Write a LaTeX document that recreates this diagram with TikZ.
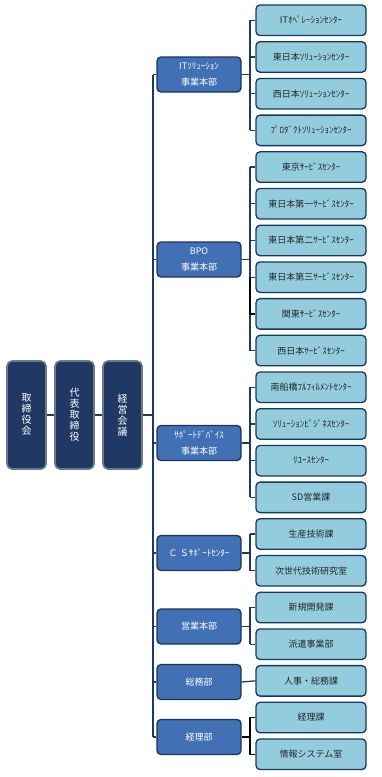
\documentclass[tikz,border=0pt]{standalone}
\usepackage{fontspec}
\setmainfont{Noto Sans CJK JP}
\usetikzlibrary{calc}
\definecolor{topfill}{HTML}{1F3864}
\definecolor{topedge}{HTML}{6B7A8F}
\definecolor{depfill}{HTML}{4170B4}
\definecolor{depedge}{HTML}{1C3557}
\definecolor{chfill}{HTML}{93CDDD}
\definecolor{chedge}{HTML}{17375E}
\definecolor{linec}{HTML}{1F3A5F}
\tikzset{
  topbox/.style={draw=topedge, fill=topfill, line width=1.6pt, rounded corners=5pt,
    minimum width=39pt, minimum height=108pt, inner sep=0pt, text=white,
    font=\fontsize{10}{11}\selectfont, align=center},
  depbox/.style={draw=depedge, fill=depfill, line width=1.3pt, rounded corners=4pt,
    minimum width=84pt, minimum height=35pt, inner sep=0pt, text=white,
    font=\fontsize{9}{16}\selectfont, align=center},
  chbox/.style={draw=chedge, fill=chfill, line width=1.3pt, rounded corners=4pt,
    minimum width=110pt, minimum height=30.5pt, inner sep=0pt, text=black!85,
    font=\fontsize{9}{10}\selectfont, align=center},
  conn/.style={draw=linec, line width=1.3pt},
  connk/.style={draw=black, line width=1.3pt},
}
\begin{document}
\begin{tikzpicture}[x=1pt,y=-1pt]
\useasboundingbox (0,0) rectangle (381,777);
% top-level
\node[topbox] (t1) at (26.5,415) {取\\締\\役\\会};
\node[topbox] (t2) at (74.5,415) {代\\表\\取\\締\\役};
\node[topbox] (t3) at (122.5,415) {経\\営\\会\\議};
% departments
\node[depbox] (d1) at (199,74.5) {ITｿﾘｭｰｼｮﾝ\\事業本部};
\node[depbox] (d2) at (199,259.5) {BPO\\事業本部};
\node[depbox] (d3) at (199,443) {ｻﾎﾟｰﾄﾃﾞﾊﾞｲｽ\\事業本部};
\node[depbox] (d4) at (199,553) {Ｃ Ｓｻﾎﾟｰﾄｾﾝﾀｰ};
\node[depbox] (d5) at (199,626.5) {営業本部};
\node[depbox] (d6) at (199,682) {総務部};
\node[depbox] (d7) at (199,737) {経理部};
% children
\foreach \i/\t in {0/ITｵﾍﾟﾚｰｼｮﾝｾﾝﾀｰ,1/東日本ｿﾘｭｰｼｮﾝｾﾝﾀｰ,2/西日本ｿﾘｭｰｼｮﾝｾﾝﾀｰ,3/ﾌﾟﾛﾀﾞｸﾄｿﾘｭｰｼｮﾝｾﾝﾀｰ,
  4/東京ｻｰﾋﾞｽｾﾝﾀｰ,5/東日本第一ｻｰﾋﾞｽｾﾝﾀｰ,6/東日本第二ｻｰﾋﾞｽｾﾝﾀｰ,7/東日本第三ｻｰﾋﾞｽｾﾝﾀｰ,
  8/関東ｻｰﾋﾞｽｾﾝﾀｰ,9/西日本ｻｰﾋﾞｽｾﾝﾀｰ,10/南船橋ﾌﾙﾌｨﾙﾒﾝﾄｾﾝﾀｰ,11/ｿﾘｭｰｼｮﾝﾋﾞｼﾞﾈｽｾﾝﾀｰ,
  12/ﾘﾕｰｽｾﾝﾀｰ,13/SD営業課,14/生産技術課,15/次世代技術研究室,16/新規開発課,
  17/派遣事業部,18/人事・総務課,19/経理課,20/情報システム室}
  \node[chbox] (c\i) at (311,{20.25+36.7*\i}) {\t};
% connectors top
\coordinate (tr) at (153,0);
\coordinate (bx) at (250,0);
\draw[conn] (t1) -- (t2);
\draw[conn] (t2) -- (t3);
\draw[conn, line width=1.6pt] (t3.east) -- (t3.east -| tr);
\draw[conn, line width=1.6pt] (d1.west -| tr) -- (d7.west -| tr);
\foreach \d in {1,...,7} \draw[conn] (d\d.west -| tr) -- (d\d.west);
% brackets
\foreach \d/\a/\b in {1/0/3,2/4/9,3/10/13,4/14/15,5/16/17} {
  \draw[conn] (d\d.east) -- (d\d.east -| bx);
  \draw[conn] (c\a.west -| bx) -- (c\b.west -| bx);
}
\foreach \i in {0,...,7,9,10,...,17} \draw[conn] (c\i.west -| bx) -- (c\i.west);
\draw[connk] (c7.west -| bx) -- (c8.west -| bx) -- (c8.west);
\draw[conn] (d6.east) -- (c18.west);
\draw[connk] (d7.east) -- (d7.east -| bx);
\draw[connk] (c19.west) -- (c19.west -| bx) -- (c20.west -| bx) -- (c20.west);
\end{tikzpicture}
\end{document}
